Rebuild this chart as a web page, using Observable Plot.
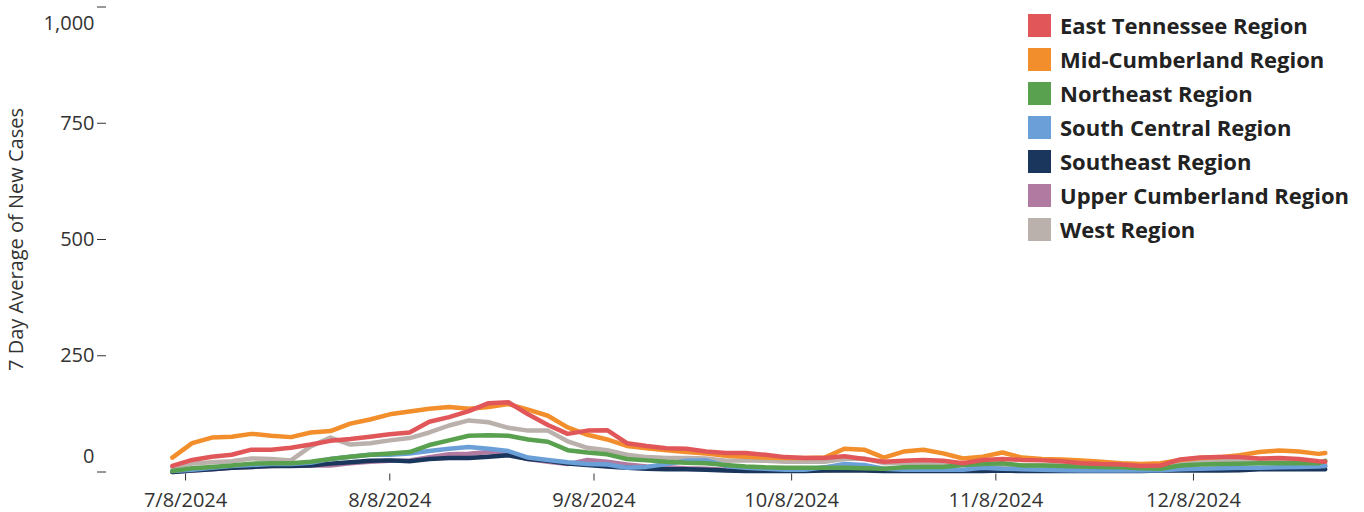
<!DOCTYPE html>
<html><head><meta charset="utf-8">
<script src="https://cdn.jsdelivr.net/npm/d3@7"></script>
<script src="https://cdn.jsdelivr.net/npm/@observablehq/plot@0.6"></script>
<style>
body{margin:0;background:#fff;font-family:"Open Sans",sans-serif;}
#wrap{position:relative;width:1364px;height:512px;}
#legend{position:absolute;left:1028px;top:8px;}
.row{display:flex;align-items:center;height:34px;}
.sw{width:23px;height:23px;margin-right:9px;flex:none;}
.lab{font-weight:700;font-size:22px;color:#222;white-space:nowrap;}
</style></head>
<body><div id="wrap"><div id="legend"></div></div>
<script>
// Regions (legend order) and colours
const regions = ["East Tennessee Region","Mid-Cumberland Region","Northeast Region","South Central Region","Southeast Region","Upper Cumberland Region","West Region"];
const colors = ["#e15759","#f28e2b","#59a14f","#6a9fd8","#1b365d","#b07aa1","#bab0ac"];

// Sample dates: every 3 days from 2024-07-06, plus final day 2024-12-28
const dates = d3.range(59).map(k => d3.utcDay.offset(new Date(Date.UTC(2024,6,6)), 3*k)).concat([new Date(Date.UTC(2024,11,28))]);

// Series values (7 day average of new cases)
const eastTennessee = [13,26,33,37,48,48,52,59,67,71, 76,81,85,108,118,131,148,150,124,101, 82,89,90,62,56,51,50,44,41,41, 37,32,30,30,34,28,22,24,26,24, 19,26,28,26,25,23,19,17,16,13, 14,27,31,32,32,29,30,28,23,22];
const midCumberland = [31,62,74,76,82,78,75,85,88,104, 113,124,130,136,140,136,140,146,134,121, 96,80,70,56,51,47,43,40,35,33, 31,30,30,31,50,48,31,44,48,40, 29,33,42,31,28,27,25,22,19,17, 19,26,30,32,36,43,46,44,39,41];
const northeast = [2,8,11,14,18,19,19,22,28,33, 37,40,43,58,68,78,79,78,70,65, 47,42,38,28,25,22,20,19,15,12, 10,9,9,9,9,8,7,10,11,11, 15,17,19,14,14,13,12,11,10,8, 7,14,16,17,18,19,19,19,19,24];
const southCentral = [2,5,9,13,15,17,17,20,28,33, 37,37,40,45,50,54,50,45,31,26, 21,17,16,9,11,17,24,25,13,9, 7,5,5,10,17,15,7,5,5,5, 5,9,7,6,5,4,3,3,3,3, 4,6,7,8,9,9,10,11,12,13];
const southeast = [0,3,6,9,11,13,13,14,18,21, 24,25,23,28,30,30,33,36,28,24, 18,15,12,9,7,6,6,5,3,2, 2,2,2,3,4,3,2,2,2,2, 2,2,3,2,2,2,2,2,2,2, 3,3,3,3,4,6,6,6,6,6];
const upperCumberland = [0,3,6,9,11,13,14,14,14,19, 22,24,25,32,38,39,43,38,28,22, 17,26,22,16,12,10,8,7,5,4, 4,4,4,4,5,5,4,4,4,4, 4,5,5,4,4,3,3,3,3,3, 4,5,6,6,7,8,9,10,11,12];
const west = [10,18,21,23,29,28,25,55,74,59, 62,68,73,85,100,111,107,95,89,89, 66,52,47,37,32,30,30,29,24,25, 24,22,22,22,28,29,19,20,20,18, 16,15,15,14,14,14,14,13,12,11, 12,22,25,25,26,25,25,24,19,17];

// Tick labels
const xTicks = ["2024-07-08","2024-08-08","2024-09-08","2024-10-08","2024-11-08","2024-12-08"].map(s => new Date(s + "T00:00:00Z"));
const yTicks = [0,250,500,750,1000];

// Long table in draw order (last drawn on top)
const seriesByRegion = {
  "West Region": west,
  "Upper Cumberland Region": upperCumberland,
  "Southeast Region": southeast,
  "South Central Region": southCentral,
  "Northeast Region": northeast,
  "Mid-Cumberland Region": midCumberland,
  "East Tennessee Region": eastTennessee
};
const rows = [];
for (const [region, vals] of Object.entries(seriesByRegion)) {
  vals.forEach((v, i) => rows.push({region, date: dates[i], value: v}));
}

const fmt = d3.format(",");
const chart = Plot.plot({
  width: 1364, height: 512,
  marginLeft: 106, marginRight: 19.5, marginTop: 6.5, marginBottom: 40.5,
  style: {fontFamily: "'Open Sans', sans-serif", fontSize: "20px", color: "#333", background: "#fff", overflow: "visible"},
  x: {type: "utc", domain: [new Date(Date.UTC(2024,5,26)), new Date(Date.UTC(2024,11,31))]},
  y: {domain: [0, 1000]},
  color: {domain: regions, range: colors},
  marks: [
    Plot.axisX({ticks: xTicks, tickFormat: d3.utcFormat("%-m/%-d/%Y"), tickSize: 7, tickPadding: 12, dy: 2, label: null}),
    Plot.axisY({ticks: yTicks, tickFormat: d => (d === 0 || d === 1000) ? "" : fmt(d), tickSize: 9, tickPadding: 3,
      label: "7 Day Average of New Cases", labelAnchor: "center", labelArrow: "none", labelOffset: 98}),
    Plot.axisY({ticks: [0], tickFormat: fmt, tickSize: 0, tickPadding: 12, dy: -15, label: null}),
    Plot.axisY({ticks: [1000], tickFormat: fmt, tickSize: 0, tickPadding: 12, dy: 17, label: null}),
    Plot.line(rows, {x: "date", y: "value", z: "region", stroke: "region", strokeWidth: 4.5, curve: "linear"})
  ]
});
document.getElementById("wrap").prepend(chart);

const legend = document.getElementById("legend");
regions.forEach((r, i) => {
  const row = document.createElement("div");
  row.className = "row";
  row.innerHTML = `<div class="sw" style="background:${colors[i]}"></div><div class="lab">${r}</div>`;
  legend.appendChild(row);
});
</script>
</body></html>
